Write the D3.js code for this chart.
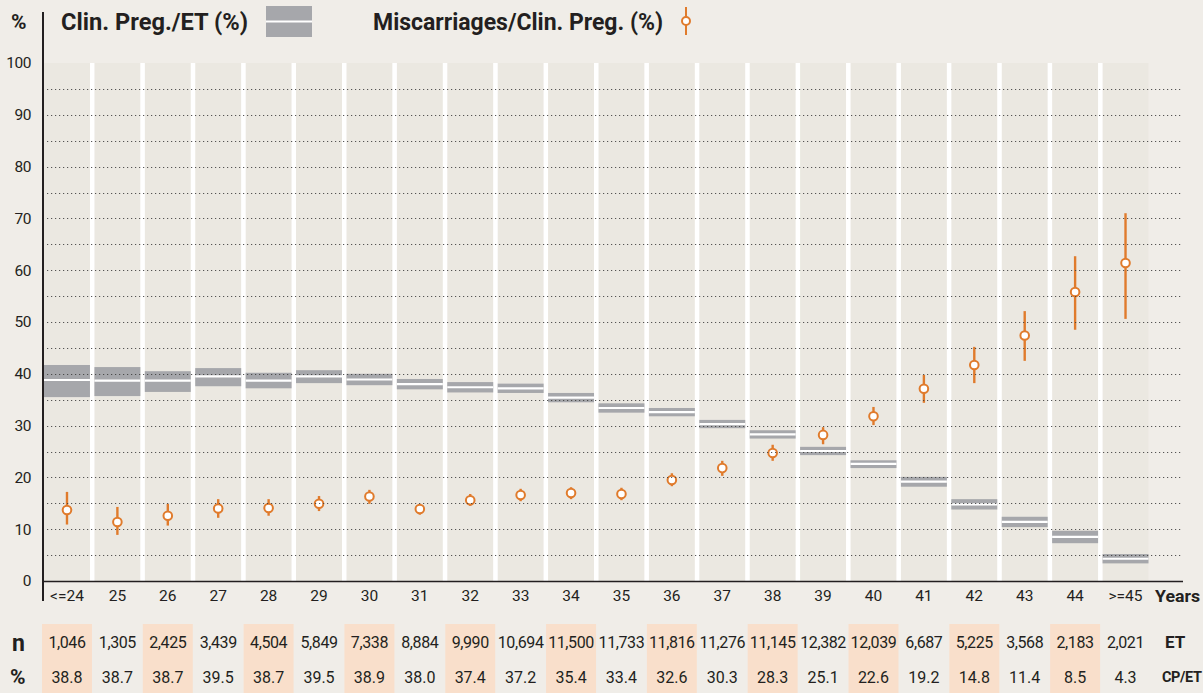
<!DOCTYPE html>
<html>
<head>
<meta charset="utf-8">
<script src="https://cdn.jsdelivr.net/npm/d3@7"></script>
<style>
  html, body { margin: 0; padding: 0; background: #f0ede8; }
  svg { display: block; font-family: Roboto, "Open Sans", sans-serif; }
  .tick-label { font-size: 15.5px; fill: #231f20; }
  .bold { font-weight: bold; fill: #231f20; }
</style>
</head>
<body>
<div id="chart"></div>
<script>
var ageLabels = ["<=24","25","26","27","28","29","30","31","32","33","34","35","36","37","38","39","40","41","42","43","44",">=45"];
var etCounts = [1046,1305,2425,3439,4504,5849,7338,8884,9990,10694,11500,11733,11816,11276,11145,12382,12039,6687,5225,3568,2183,2021];
var cpEt = [38.8,38.7,38.7,39.5,38.7,39.5,38.9,38.0,37.4,37.2,35.4,33.4,32.6,30.3,28.3,25.1,22.6,19.2,14.8,11.4,8.5,4.3];
var cpEtLow = [35.5,35.7,36.5,37.6,37.2,38.2,37.8,37.0,36.4,36.3,34.5,32.5,31.8,29.5,27.5,24.3,21.8,18.2,13.8,10.4,7.3,3.4];
var cpEtHigh = [41.7,41.3,40.5,41.1,40.2,40.7,40.0,39.0,38.4,38.1,36.3,34.3,33.4,31.1,29.1,25.9,23.3,20.1,15.8,12.4,9.7,5.2];
var misc = [13.7,11.4,12.6,14.0,14.1,14.9,16.3,13.9,15.6,16.6,17.0,16.8,19.5,21.8,24.7,28.2,31.8,37.1,41.7,47.4,55.8,61.4];
var miscLow = [10.9,8.9,10.7,12.2,12.6,13.5,14.9,12.8,14.5,15.4,15.8,15.6,18.3,20.3,23.2,26.4,30.1,34.4,38.2,42.5,48.5,50.6];
var miscHigh = [17.2,14.3,14.9,15.8,15.8,16.4,17.6,14.9,16.8,17.8,18.1,18.0,20.8,23.2,26.3,29.7,33.6,39.8,45.2,52.1,62.7,71.0];
var yTicks = [0,10,20,30,40,50,60,70,80,90,100];

var W = 1203, H = 693;
var orange = "#e07b2c", gray = "#a6a7ab", ink = "#231f20";

var svg = d3.select("#chart").append("svg").attr("width", W).attr("height", H);

var x = d3.scaleBand().domain(ageLabels).range([44, 1148.5]).paddingInner(0.088).paddingOuter(0);
var y = d3.scaleLinear().domain([0, 100]).range([581, 63]);
var fmt = d3.format(",");

// columns
svg.append("g").selectAll("rect").data(ageLabels).enter().append("rect")
    .attr("x", function(d) { return x(d); })
    .attr("y", y(100))
    .attr("width", x.bandwidth())
    .attr("height", y(0) - y(100))
    .attr("fill", "#ebe8e1");
// white gaps
svg.append("g").selectAll("rect").data(ageLabels.slice(1)).enter().append("rect")
    .attr("x", function(d) { return x(d) - (x.step() - x.bandwidth()); })
    .attr("y", y(100))
    .attr("width", x.step() - x.bandwidth())
    .attr("height", y(0) - y(100))
    .attr("fill", "#fff");

// CP/ET bars (confidence range, white line at value)
var bars = svg.append("g").selectAll("g").data(ageLabels).enter().append("g");
bars.append("rect")
    .attr("x", function(d) { return x(d); })
    .attr("y", function(d, i) { return y(cpEtHigh[i]); })
    .attr("width", x.bandwidth())
    .attr("height", function(d, i) { return y(cpEtLow[i]) - y(cpEtHigh[i]); })
    .attr("fill", gray);
bars.append("line")
    .attr("x1", function(d) { return x(d); })
    .attr("x2", function(d) { return x(d) + x.bandwidth(); })
    .attr("y1", function(d, i) { return y(cpEt[i]); })
    .attr("y2", function(d, i) { return y(cpEt[i]); })
    .attr("stroke", "#fff").attr("stroke-width", 2.2);

// miscarriage points
var pts = svg.append("g").selectAll("g").data(ageLabels).enter().append("g")
    .attr("transform", function(d) { return "translate(" + (x(d) + x.bandwidth() / 2) + ",0)"; });
pts.append("line")
    .attr("y1", function(d, i) { return y(miscHigh[i]); })
    .attr("y2", function(d, i) { return y(miscLow[i]); })
    .attr("stroke", orange).attr("stroke-width", 2.4);
pts.append("circle")
    .attr("cy", function(d, i) { return y(misc[i]); })
    .attr("r", 4.3)
    .attr("fill", "#fff").attr("stroke", orange).attr("stroke-width", 2);

// dotted gridlines on top
var grid = d3.range(5, 100, 5);
svg.append("g").selectAll("line").data(grid).enter().append("line")
    .attr("x1", 47).attr("x2", 1181)
    .attr("y1", function(d) { return Math.round(y(d)) + 0.5; })
    .attr("y2", function(d) { return Math.round(y(d)) + 0.5; })
    .attr("stroke", "#3a3a3a").attr("stroke-width", 1.2)
    .attr("stroke-dasharray", "1.2,2.8").attr("opacity", 0.85);

// axes lines
svg.append("line").attr("x1", 43).attr("x2", 43).attr("y1", 12).attr("y2", 601)
    .attr("stroke", ink).attr("stroke-width", 2);
svg.append("line").attr("x1", 43).attr("x2", 1183).attr("y1", 581.5).attr("y2", 581.5)
    .attr("stroke", ink).attr("stroke-width", 1.5);

// y tick labels
svg.append("g").selectAll("text").data(yTicks).enter().append("text")
    .attr("class", "tick-label")
    .attr("x", 31).attr("y", function(d) { return y(d); })
    .attr("dy", "0.35em").attr("text-anchor", "end")
    .attr("letter-spacing", "-0.5")
    .text(function(d) { return d; });

// x labels
svg.append("g").selectAll("text").data(ageLabels).enter().append("text")
    .attr("class", "tick-label")
    .attr("x", function(d) { return x(d) + x.bandwidth() / 2; })
    .attr("y", 596).attr("dy", "0.35em").attr("text-anchor", "middle")
    .text(function(d) { return d; });
svg.append("text").attr("class", "bold").attr("x", 1155).attr("y", 596).attr("dy", "0.35em")
    .style("font-size", "17px").attr("textLength", 45).attr("lengthAdjust", "spacingAndGlyphs")
    .text("Years");

// table
var table = svg.append("g");
table.selectAll("rect").data(ageLabels.filter(function(d, i) { return i % 2 === 0; })).enter().append("rect")
    .attr("x", function(d) { return x(d) - 2; })
    .attr("y", 624).attr("width", x.bandwidth() + 4).attr("height", H - 624)
    .attr("fill", "#f9dfcb");
table.selectAll("text.n").data(etCounts).enter().append("text")
    .attr("class", "tick-label n")
    .attr("x", function(d, i) { return x(ageLabels[i]) + x.bandwidth() / 2; })
    .attr("y", 642).attr("dy", "0.35em").attr("text-anchor", "middle")
    .attr("letter-spacing", "-0.4")
    .style("font-size", "16px")
    .text(function(d) { return fmt(d); });
table.selectAll("text.p").data(cpEt).enter().append("text")
    .attr("class", "tick-label p")
    .attr("x", function(d, i) { return x(ageLabels[i]) + x.bandwidth() / 2; })
    .attr("y", 677).attr("dy", "0.35em").attr("text-anchor", "middle")
    .style("font-size", "16px")
    .text(function(d) { return d.toFixed(1); });
svg.append("text").attr("class", "bold").attr("x", 12).attr("y", 643).attr("dy", "0.35em")
    .style("font-size", "23px").text("n");
svg.append("text").attr("class", "bold").attr("x", 10).attr("y", 677).attr("dy", "0.35em")
    .style("font-size", "21px").text("%");
svg.append("text").attr("class", "bold").attr("x", 1165).attr("y", 642).attr("dy", "0.35em")
    .style("font-size", "17px").text("ET");
svg.append("text").attr("class", "bold").attr("x", 1162).attr("y", 677).attr("dy", "0.35em")
    .style("font-size", "14.5px").attr("letter-spacing", "-0.4")
    .text("CP/ET");

// legend
svg.append("text").attr("class", "bold").attr("x", 11).attr("y", 22).attr("dy", "0.35em")
    .style("font-size", "21px").text("%");
svg.append("text").attr("class", "bold").attr("x", 61).attr("y", 22).attr("dy", "0.35em")
    .style("font-size", "23px").attr("textLength", 187).attr("lengthAdjust", "spacingAndGlyphs")
    .text("Clin. Preg./ET (%)");
svg.append("rect").attr("x", 266).attr("y", 6).attr("width", 46).attr("height", 31).attr("fill", gray);
svg.append("line").attr("x1", 266).attr("x2", 312).attr("y1", 21.5).attr("y2", 21.5)
    .attr("stroke", "#fff").attr("stroke-width", 2);
svg.append("text").attr("class", "bold").attr("x", 373).attr("y", 22).attr("dy", "0.35em")
    .style("font-size", "23px").attr("textLength", 290).attr("lengthAdjust", "spacingAndGlyphs")
    .text("Miscarriages/Clin. Preg. (%)");
svg.append("line").attr("x1", 686).attr("x2", 686).attr("y1", 7).attr("y2", 35)
    .attr("stroke", orange).attr("stroke-width", 2);
svg.append("circle").attr("cx", 686).attr("cy", 21).attr("r", 4)
    .attr("fill", "#fff").attr("stroke", orange).attr("stroke-width", 2);
</script>
</body>
</html>
